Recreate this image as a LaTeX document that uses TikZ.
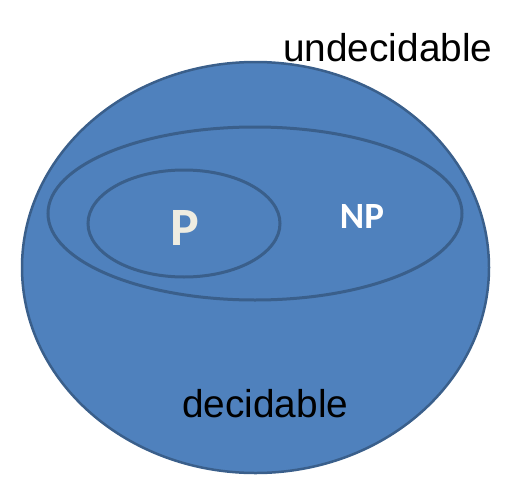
\documentclass[tikz,border=0pt]{standalone}
\usepackage{fontspec}
\setmainfont{Liberation Sans}
\newfontfamily\calibrifont{Carlito}
\usetikzlibrary{shapes.geometric}
\definecolor{setfill}{HTML}{4F81BD}
\definecolor{setline}{HTML}{3A5F8B}
\definecolor{ptext}{HTML}{EEECE1}
\tikzstyle{classset} = [
    ellipse, draw=setline, inner sep=0pt, outer sep=0pt
]
\tikzstyle{classname} = [
    inner sep=0pt, font=\calibrifont\bfseries
]
\tikzstyle{regionname} = [
    inner sep=0pt, font=\fontsize{38.8}{40}\selectfont
]

\begin{document}
\begin{tikzpicture}[x=1pt, y=-1pt]
        \useasboundingbox (0,0) rectangle (508,495);
        % Sets
        \node[classset, fill=setfill, line width=2.5pt,
              minimum width=467pt, minimum height=411pt] (decidable) at (255.5,267.5) {};
        \node[classset, line width=3pt,
              minimum width=414pt, minimum height=173pt] (np) at (255,213.5) {};
        \node[classset, line width=3pt,
              minimum width=192pt, minimum height=107pt] (p) at (184,223.5) {};

        % Labels
        \node[classname, text=ptext, anchor=base, font=\calibrifont\bfseries\fontsize{54}{56}\selectfont] (plabel) at (185,245) {P};
        \node[classname, text=white, anchor=base, font=\calibrifont\bfseries\fontsize{37}{39}\selectfont] (nplabel) at (362,228) {NP};
        \node[regionname, anchor=base west] (declabel) at (182,417) {decidable};
        \node[regionname, anchor=base west] (undeclabel) at (283,61) {undecidable};

    \end{tikzpicture}
\end{document}
